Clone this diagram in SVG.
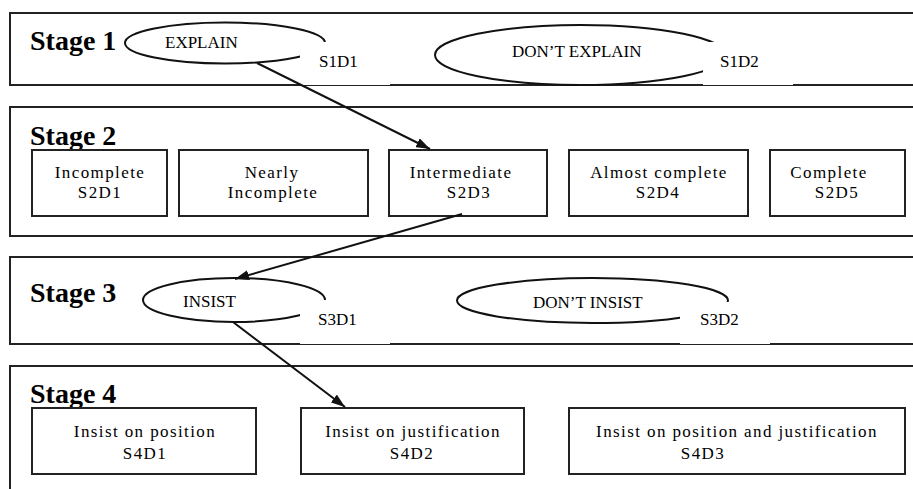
<svg xmlns="http://www.w3.org/2000/svg" width="913" height="489" viewBox="0 0 913 489">
<style>
.panel{fill:none;stroke:#222;stroke-width:2}
.box{fill:#fff;stroke:#222;stroke-width:2}
.ell{fill:#fff;stroke:#111;stroke-width:2}
.mask{fill:#fff;stroke:none}
text{font-family:'Liberation Serif','Times New Roman',serif;fill:#000}
.stage{font-weight:bold;font-size:28px}
.el{font-size:17px}
.bx{font-size:17px;letter-spacing:1.4px;text-anchor:middle}
.conn{fill:none;stroke:#111;stroke-width:2}
</style>
<defs>
<marker id="arr" viewBox="0 0 14 10" refX="14" refY="5" markerWidth="14" markerHeight="10" markerUnits="userSpaceOnUse" orient="auto">
<path d="M0,0 L14,5 L0,10 z" fill="#111"/>
</marker>
</defs>
<rect width="913" height="489" fill="#fff"/>

<g id="stage1">
<rect class="panel" x="10" y="13" width="915" height="72"/>
<text class="stage" x="30" y="50">Stage 1</text>
</g>
<g id="stage2">
<rect class="panel" x="10" y="107" width="915" height="129"/>
<text class="stage" x="30" y="145">Stage 2</text>
</g>
<g id="stage3">
<rect class="panel" x="10" y="257" width="915" height="87"/>
<text class="stage" x="30" y="302">Stage 3</text>
</g>
<g id="stage4">
<rect class="panel" x="10" y="366" width="915" height="140"/>
<text class="stage" x="30" y="403">Stage 4</text>
</g>

<g id="S1D1">
<ellipse class="ell" cx="225" cy="43" rx="100" ry="20.5"/>
<rect class="mask" x="300" y="42" width="90" height="43"/>
<text class="el" x="165" y="48">EXPLAIN</text>
<text class="el" x="319" y="67">S1D1</text>
</g>
<g id="S1D2">
<ellipse class="ell" cx="580.5" cy="55" rx="145.5" ry="30"/>
<rect class="mask" x="703" y="42" width="90" height="43"/>
<text class="el" x="512" y="57">DON’T EXPLAIN</text>
<text class="el" x="720" y="67">S1D2</text>
</g>

<g id="S2D1">
<rect class="box" x="32" y="150" width="135" height="66"/>
<text class="bx" x="100" y="178">Incomplete</text>
<text class="bx" x="100" y="198">S2D1</text>
</g>
<g id="S2D2">
<rect class="box" x="179" y="150" width="189" height="66"/>
<text class="bx" x="272" y="178">Nearly</text>
<text class="bx" x="273" y="198">Incomplete</text>
</g>
<g id="S2D3">
<rect class="box" x="389" y="150" width="158" height="66"/>
<text class="bx" x="461" y="178">Intermediate</text>
<text class="bx" x="469" y="198">S2D3</text>
</g>
<g id="S2D4">
<rect class="box" x="569" y="150" width="179" height="66"/>
<text class="bx" x="659" y="178">Almost complete</text>
<text class="bx" x="658" y="198">S2D4</text>
</g>
<g id="S2D5">
<rect class="box" x="770" y="150" width="135" height="66"/>
<text class="bx" x="829" y="178">Complete</text>
<text class="bx" x="837" y="198">S2D5</text>
</g>

<g id="S3D1">
<ellipse class="ell" cx="234" cy="300" rx="91" ry="22"/>
<rect class="mask" x="300" y="300" width="90" height="44"/>
<text class="el" x="183" y="307">INSIST</text>
<text class="el" x="318" y="325">S3D1</text>
</g>
<g id="S3D2">
<ellipse class="ell" cx="592.5" cy="300.5" rx="135.5" ry="22.5"/>
<rect class="mask" x="680" y="302" width="90" height="42"/>
<text class="el" x="533" y="308">DON’T INSIST</text>
<text class="el" x="700" y="325">S3D2</text>
</g>

<g id="S4D1">
<rect class="box" x="32" y="408" width="224" height="66"/>
<text class="bx" x="145" y="437">Insist on position</text>
<text class="bx" x="145" y="459">S4D1</text>
</g>
<g id="S4D2">
<rect class="box" x="301" y="408" width="223" height="66"/>
<text class="bx" x="413" y="437">Insist on justification</text>
<text class="bx" x="412" y="459">S4D2</text>
</g>
<g id="S4D3">
<rect class="box" x="569" y="408" width="336" height="66"/>
<text class="bx" x="737" y="437">Insist on position and justification</text>
<text class="bx" x="703" y="459">S4D3</text>
</g>

<g id="connectors">
<line class="conn" x1="257" y1="63" x2="430" y2="149" marker-end="url(#arr)"/>
<line class="conn" x1="462" y1="214" x2="235" y2="279" marker-end="url(#arr)"/>
<line class="conn" x1="233" y1="322" x2="345" y2="407" marker-end="url(#arr)"/>
</g>
</svg>
